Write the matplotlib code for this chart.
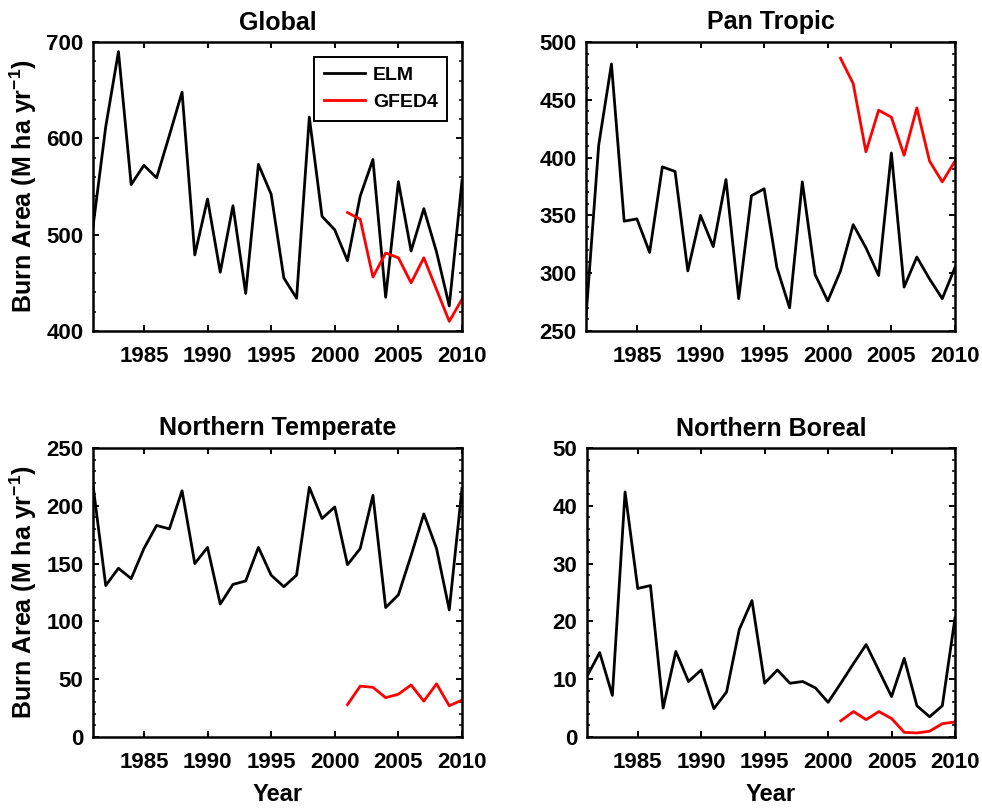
import numpy as np
import matplotlib
matplotlib.use('Agg')
import matplotlib.pyplot as plt
from matplotlib.ticker import MultipleLocator

plt.rcParams['font.family'] = ['Liberation Sans', 'DejaVu Sans']
plt.rcParams['font.weight'] = 'bold'
plt.rcParams['mathtext.fontset'] = 'custom'
plt.rcParams['mathtext.rm'] = 'Liberation Sans:bold'
plt.rcParams['mathtext.it'] = 'Liberation Sans:bold'
plt.rcParams['mathtext.bf'] = 'Liberation Sans:bold'
plt.rcParams['mathtext.default'] = 'rm'

# years
elm_years = np.arange(1981, 2011)
gfed_years = np.arange(2001, 2011)

# Global
global_elm = [508, 612, 690, 552, 572, 559, 603, 648, 479, 537,
              461, 530, 439, 573, 542, 455, 434, 622, 519, 505,
              473, 540, 578, 435, 555, 483, 527, 482, 426, 556]
global_gfed = [523, 516, 456, 481, 476, 450, 476, 443, 410, 433]

# Pan Tropic
tropic_elm = [262, 411, 481, 345, 347, 318, 392, 388, 302, 350,
              323, 381, 278, 367, 373, 305, 270, 379, 299, 276,
              302, 342, 322, 298, 404, 288, 314, 295, 278, 305]
tropic_gfed = [486, 464, 405, 441, 435, 402, 443, 397, 379, 397]

# Northern Temperate
temperate_elm = [218, 131, 146, 137, 163, 183, 180, 213, 150, 164,
                 115, 132, 135, 164, 140, 130, 140, 216, 189, 199,
                 149, 163, 209, 112, 123, 157, 193, 163, 110, 215]
temperate_gfed = [28, 44, 43, 34, 37, 45, 31, 46, 27, 32]

# Northern Boreal
boreal_elm = [10.5, 14.6, 7.2, 42.4, 25.7, 26.2, 5.0, 14.8, 9.6, 11.6,
              4.9, 7.8, 18.6, 23.6, 9.3, 11.6, 9.3, 9.6, 8.5, 6.0,
              9.3, 12.7, 16.0, 11.5, 7.0, 13.6, 5.4, 3.5, 5.4, 20.6]
boreal_gfed = [2.8, 4.4, 3.0, 4.4, 3.2, 0.8, 0.7, 1.0, 2.3, 2.6]

panels = [
    ('Global', global_elm, global_gfed, (400, 700), 100, 20),
    ('Pan Tropic', tropic_elm, tropic_gfed, (250, 500), 50, 10),
    ('Northern Temperate', temperate_elm, temperate_gfed, (0, 250), 50, 10),
    ('Northern Boreal', boreal_elm, boreal_gfed, (0, 50), 10, 2),
]

W, H = 982, 809
fig = plt.figure(figsize=(W / 100, H / 100), dpi=100)

# axes boxes in pixels: left, top, right, bottom
boxes = [(93, 42, 462, 331), (586, 42, 955, 331),
         (93, 448, 462, 737), (587, 448, 955, 737)]

for i, (title, elm, gfed, ylim, major, minor) in enumerate(panels):
    l, t, r, b = boxes[i]
    ax = fig.add_axes([l / W, 1 - b / H, (r - l) / W, (b - t) / H])
    ax.plot(elm_years, elm, color='black', lw=2.0, label='ELM')
    ax.plot(gfed_years, gfed, color='red', lw=2.0, label='GFED4')
    ax.set_xlim(1981, 2010)
    ax.set_ylim(*ylim)
    ax.set_xticks([1985, 1990, 1995, 2000, 2005, 2010])
    ax.yaxis.set_major_locator(MultipleLocator(major))
    ax.yaxis.set_minor_locator(MultipleLocator(minor))
    ax.tick_params(axis='both', which='major', direction='in', length=4,
                   width=1.4, labelsize=16, top=True, right=True, pad=7)
    ax.tick_params(axis='y', which='minor', direction='in', length=2.2,
                   width=1.1, left=True, right=True)
    ax.tick_params(axis='x', pad=11)
    for s in ax.spines.values():
        s.set_linewidth(1.8)
    ax.set_title(title, fontsize=18, fontweight='bold', pad=9)
    if i % 2 == 0:
        ax.set_ylabel(r'Burn Area (M ha yr$^{-1}$)', fontsize=18,
                      fontweight='bold', labelpad=5)
    if i >= 2:
        ax.set_xlabel('Year', fontsize=17, fontweight='bold', labelpad=7)
    if i == 0:
        leg = ax.legend(loc='upper right', fontsize=14, fancybox=False,
                        edgecolor='black', framealpha=1, borderaxespad=0.75,
                        handlelength=2.1, labelspacing=0.5, borderpad=0.5,
                        handletextpad=0.4)
        leg.get_frame().set_linewidth(1.4)

fig.savefig('out.png', dpi=100)
